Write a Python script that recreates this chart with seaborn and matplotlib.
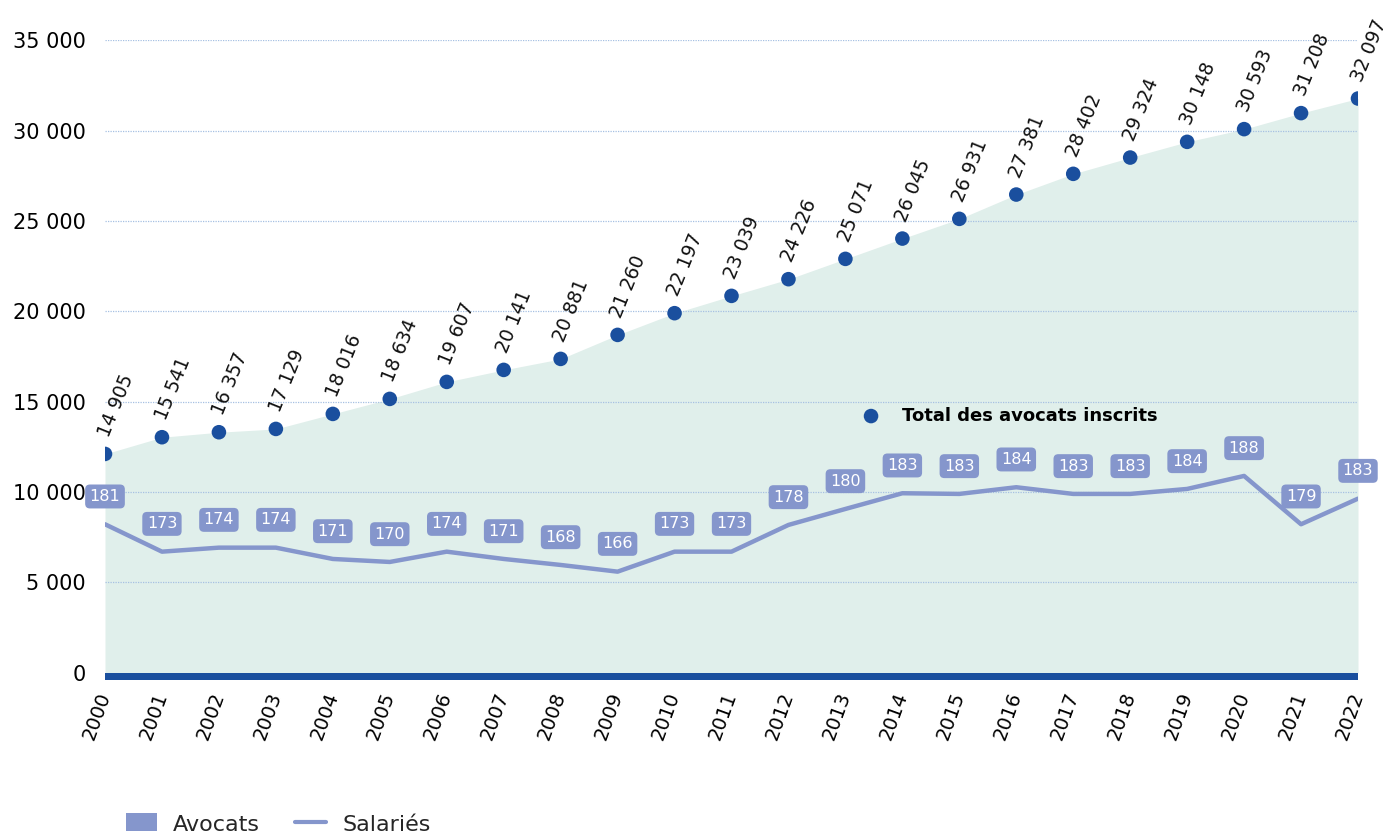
import matplotlib
matplotlib.use("Agg")
import matplotlib.pyplot as plt
import seaborn as sns
import pandas as pd
from matplotlib.patches import Patch
from matplotlib.lines import Line2D

years = list(range(2000, 2023))
# plotted position of the "Total des avocats inscrits" dots / area top
total_pos = [12104, 13029, 13305, 13488, 14319, 15150, 16091, 16755, 17364, 18693,
             19895, 20853, 21777, 22901, 24025, 25116, 26462, 27608, 28510, 29379,
             30083, 30969, 31777]
total_labels = ["14 905", "15 541", "16 357", "17 129", "18 016", "18 634", "19 607",
                "20 141", "20 881", "21 260", "22 197", "23 039", "24 226", "25 071",
                "26 045", "26 931", "27 381", "28 402", "29 324", "30 148", "30 593",
                "31 208", "32 097"]
# plotted position of the "Salariés" line
sal_pos = [8211, 6694, 6916, 6916, 6290, 6124, 6694, 6290, 5958, 5587,
           6694, 6694, 8173, 9058, 9928, 9890, 10260, 9890, 9890, 10166,
           10886, 8211, 9629]
sal_labels = ["181", "173", "174", "174", "171", "170", "174", "171", "168", "166",
              "173", "173", "178", "180", "183", "183", "184", "183", "183", "184",
              "188", "179", "183"]
yticks = [0, 5000, 10000, 15000, 20000, 25000, 30000, 35000]
ytick_labels = ["0", "5 000", "10 000", "15 000", "20 000", "25 000", "30 000", "35 000"]

df = pd.DataFrame({"year": years, "total": total_pos, "sal": sal_pos})

NAVY = "#1a4f9e"
LAV = "#8596cc"
MINT = "#e0efeb"

sns.set_style("white")
plt.rcParams["font.family"] = ["DejaVu Sans"]

fig = plt.figure(figsize=(13.83, 8.31), dpi=100)
ax = fig.add_axes([105 / 1383, 0.1815, (1358 - 105) / 1383, 0.9515 - 0.1815])

ax.fill_between(df["year"], 0, df["total"], color=MINT, lw=0, zorder=1)
ax.axhspan(-420, 0, color=NAVY, lw=0, zorder=2)
for yv in yticks[1:]:
    ax.axhline(yv, color="#a6c0e2", lw=0.9, ls=(0, (1, 1)), zorder=1.5)

sns.lineplot(data=df, x="year", y="sal", ax=ax, color=LAV, lw=3.2, zorder=3)
sns.scatterplot(data=df, x="year", y="total", ax=ax, color=NAVY, s=110,
                edgecolor="none", zorder=4)

for x, y, t in zip(years, total_pos, total_labels):
    ax.annotate(t, (x, y), xytext=(-1, 13), textcoords="offset points",
                rotation=68, rotation_mode="anchor", ha="left", va="center",
                fontsize=13.5, color="#111111", annotation_clip=False)

for x, y, t in zip(years, sal_pos, sal_labels):
    ax.annotate(t, (x, y), xytext=(0, 20), textcoords="offset points",
                ha="center", va="center", fontsize=11.5, color="white",
                annotation_clip=False, zorder=5,
                bbox=dict(boxstyle="round,pad=0.28,rounding_size=0.3",
                          fc=LAV, ec="none"))

ax.set_xlim(2000, 2022)
ax.set_ylim(-420, 35000)
ax.set_yticks(yticks)
ax.set_yticklabels(ytick_labels, fontsize=15, color="black")
ax.set_xticks(years)
ax.set_xticklabels([str(y) for y in years], rotation=70, rotation_mode="anchor",
                   ha="right", va="center", fontsize=14, color="black")
ax.tick_params(axis="both", length=0)
ax.tick_params(axis="y", pad=14)
ax.tick_params(axis="x", pad=9)
ax.set_xlabel("")
ax.set_ylabel("")
for s in ax.spines.values():
    s.set_visible(False)

# inner legend for the dots
ax.scatter([2013.45], [14200], s=110, color=NAVY, edgecolor="none", zorder=4)
ax.text(2014.0, 14200, "Total des avocats inscrits", fontsize=13,
        fontweight="bold", color="black", va="center", ha="left", zorder=5)

handles = [Patch(facecolor=LAV, edgecolor="none"),
           Line2D([], [], color=LAV, lw=3)]
fig.legend(handles, ["Avocats", "Salariés"], loc="upper left",
           bbox_to_anchor=(115 / 1383, 29 / 831), ncol=2, frameon=False,
           fontsize=16, handlelength=1.4, handleheight=1.0, borderpad=0,
           columnspacing=1.6, handletextpad=0.7)

fig.savefig("out.png", dpi=100)
